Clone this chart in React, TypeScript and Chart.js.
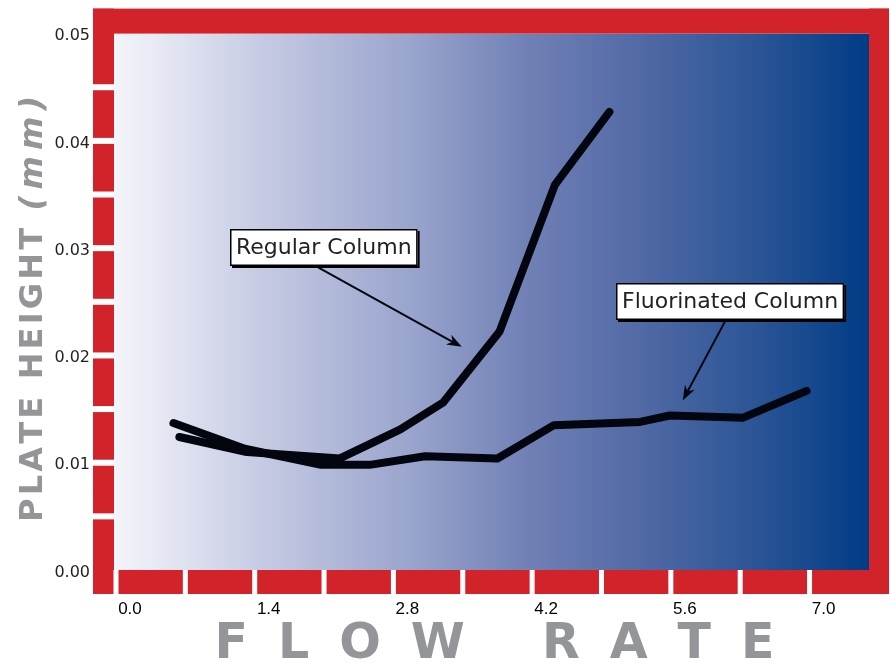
import { useEffect, useRef } from 'react';
import { Chart, registerables } from 'chart.js';

Chart.register(...registerables);

// ---- data ----
const xTickValues = [0, 1.4, 2.8, 4.2, 5.6, 7.0];
const yTickValues = [0, 0.01, 0.02, 0.03, 0.04, 0.05];
const xFrameTicks = [0, 0.7, 1.4, 2.1, 2.8, 3.5, 4.2, 4.9, 5.6, 6.3, 7.0];
const yFrameTicks = [0.005, 0.01, 0.015, 0.02, 0.025, 0.03, 0.035, 0.04, 0.045];

const seriesNames = ['Regular Column', 'Fluorinated Column'];

const regularX = [0.64, 1.32, 2.26, 2.87, 3.3, 3.87, 4.43, 4.98];
const regularY = [0.0124, 0.011, 0.0104, 0.0131, 0.0156, 0.0222, 0.0359, 0.0427];

const fluorinatedX = [0.58, 1.3, 2.07, 2.56, 3.12, 3.85, 4.42, 5.29, 5.59, 6.33, 6.97];
const fluorinatedY = [0.0137, 0.0113, 0.0098, 0.0098, 0.0106, 0.0104, 0.0135, 0.0138, 0.0144, 0.0142, 0.0167];

const xTitle = 'FLOW RATE';
const yTitleMain = 'PLATE HEIGHT ';
const yTitleUnit = '(mm)';

// callout anchors (data coordinates)
const callouts = [
  { label: seriesNames[0], box: { x: 2.094, y: 0.0301 }, tail: { x: 2.04, y: 0.0282 }, head: { x: 3.49, y: 0.0208 } },
  { label: seriesNames[1], box: { x: 6.196, y: 0.0250 }, tail: { x: 6.166, y: 0.0235 }, head: { x: 5.72, y: 0.0158 } },
];

// ---- styles ----
const RED = '#d2232a';
const LINE = '#03060f';
const TITLE_GREY = '#939598';
const FRAME = { left: 21, top: 25, right: 20, bottom: 24 };
const GRADIENT: [number, string][] = [
  [0, '#f4f5fa'],
  [0.2, '#c5cae3'],
  [0.4, '#98a3cc'],
  [0.55, '#7080b5'],
  [0.7, '#5169a5'],
  [0.85, '#2b5595'],
  [1, '#003c86'],
];

function spacedWidth(ctx: CanvasRenderingContext2D, text: string, spacing: number) {
  let w = 0;
  const chars = Array.from(text);
  chars.forEach((ch, i) => {
    w += ctx.measureText(ch).width + (i < chars.length - 1 ? spacing : 0);
  });
  return w;
}

function drawSpaced(ctx: CanvasRenderingContext2D, text: string, x: number, y: number, spacing: number) {
  let cx = x;
  for (const ch of Array.from(text)) {
    ctx.fillText(ch, cx, y);
    cx += ctx.measureText(ch).width + spacing;
  }
  return cx;
}

const framePlugin = {
  id: 'frame',
  beforeDraw(chart: any) {
    const { ctx, chartArea: a, scales } = chart;
    const xs = scales.x;
    const ys = scales.y;
    ctx.save();
    const g = ctx.createLinearGradient(a.left, 0, a.right, 0);
    GRADIENT.forEach(([o, c]) => g.addColorStop(o, c));
    ctx.fillStyle = g;
    ctx.fillRect(a.left, a.top, a.right - a.left, a.bottom - a.top);

    const L = a.left - FRAME.left;
    const T = a.top - FRAME.top;
    const R = a.right + FRAME.right;
    const B = a.bottom + FRAME.bottom;
    ctx.fillStyle = RED;
    ctx.fillRect(L, T, R - L, FRAME.top);
    ctx.fillRect(L, T, FRAME.left, B - T);
    ctx.fillRect(a.right, T, FRAME.right, B - T);
    ctx.fillRect(L, a.bottom, R - L, FRAME.bottom);

    ctx.fillStyle = '#ffffff';
    yFrameTicks.forEach((v) => {
      const py = ys.getPixelForValue(v);
      ctx.fillRect(L, py - 3, FRAME.left, 6);
    });
    xFrameTicks.forEach((v) => {
      const px = xs.getPixelForValue(v);
      ctx.fillRect(px - 2.5, a.bottom, 5, FRAME.bottom);
    });
    ctx.restore();
  },
  afterDraw(chart: any) {
    const { ctx, chartArea: a, scales } = chart;
    const xs = scales.x;
    const ys = scales.y;
    ctx.save();

    // callouts
    callouts.forEach((c) => {
      const tx = xs.getPixelForValue(c.tail.x);
      const ty = ys.getPixelForValue(c.tail.y);
      const hx = xs.getPixelForValue(c.head.x);
      const hy = ys.getPixelForValue(c.head.y);
      const ang = Math.atan2(hy - ty, hx - tx);
      const headLen = 15;
      const headW = 5.5;
      ctx.strokeStyle = LINE;
      ctx.fillStyle = LINE;
      ctx.lineWidth = 2;
      ctx.beginPath();
      ctx.moveTo(tx, ty);
      ctx.lineTo(hx - Math.cos(ang) * headLen * 0.7, hy - Math.sin(ang) * headLen * 0.7);
      ctx.stroke();
      ctx.beginPath();
      ctx.moveTo(hx, hy);
      const bx = hx - Math.cos(ang) * headLen;
      const by = hy - Math.sin(ang) * headLen;
      const nx = -Math.sin(ang);
      const ny = Math.cos(ang);
      ctx.lineTo(bx + nx * headW, by + ny * headW);
      ctx.lineTo(hx - Math.cos(ang) * headLen * 0.7, hy - Math.sin(ang) * headLen * 0.7);
      ctx.lineTo(bx - nx * headW, by - ny * headW);
      ctx.closePath();
      ctx.fill();

      ctx.font = '22px "DejaVu Sans"';
      const tw = ctx.measureText(c.label).width;
      const w = tw + 12;
      const h = 37;
      const cx = xs.getPixelForValue(c.box.x);
      const cy = ys.getPixelForValue(c.box.y);
      const x0 = Math.round(cx - w / 2);
      const y0 = Math.round(cy - h / 2);
      ctx.fillStyle = '#000000';
      ctx.fillRect(x0 + 2, y0 + 2, w, h);
      ctx.fillStyle = '#ffffff';
      ctx.fillRect(x0, y0, w, h);
      ctx.lineWidth = 1.5;
      ctx.strokeStyle = '#000000';
      ctx.strokeRect(x0 + 0.75, y0 + 0.75, w - 1.5, h - 1.5);
      ctx.fillStyle = '#222222';
      ctx.textAlign = 'center';
      ctx.textBaseline = 'middle';
      ctx.fillText(c.label, x0 + w / 2, y0 + h / 2 + 1);
    });

    // axis titles
    ctx.fillStyle = TITLE_GREY;
    ctx.textAlign = 'left';
    ctx.textBaseline = 'alphabetic';
    ctx.font = 'bold 49px "DejaVu Sans"';
    const xSp = 30;
    const xw = spacedWidth(ctx, xTitle, xSp);
    const xc = (a.left + a.right) / 2 + 3;
    drawSpaced(ctx, xTitle, xc - xw / 2, 658, xSp);

    ctx.translate(42, 522);
    ctx.rotate(-Math.PI / 2);
    const ySp = 3.2;
    ctx.font = 'bold 32px "DejaVu Sans"';
    const pos = drawSpaced(ctx, yTitleMain, 0, 0, ySp);
    ctx.font = 'italic bold 32px "DejaVu Sans"';
    drawSpaced(ctx, yTitleUnit, pos, 0, ySp + 3);
    ctx.restore();
  },
};

export default function App() {
  const ref = useRef<HTMLCanvasElement | null>(null);

  useEffect(() => {
    if (!ref.current) return;
    const chart = new Chart(ref.current, {
      type: 'line',
      data: {
        datasets: [
          {
            label: seriesNames[0],
            data: regularX.map((x, i) => ({ x, y: regularY[i] })),
            borderColor: LINE,
            borderWidth: 8,
            borderCapStyle: 'round',
            borderJoinStyle: 'round',
            pointRadius: 0,
            tension: 0,
            fill: false,
          },
          {
            label: seriesNames[1],
            data: fluorinatedX.map((x, i) => ({ x, y: fluorinatedY[i] })),
            borderColor: LINE,
            borderWidth: 8,
            borderCapStyle: 'round',
            borderJoinStyle: 'round',
            pointRadius: 0,
            tension: 0,
            fill: false,
          },
        ],
      },
      options: {
        animation: false,
        responsive: false,
        devicePixelRatio: 1,
        layout: { padding: { top: 33, right: 21, left: 0, bottom: 0 } },
        plugins: {
          legend: { display: false },
          tooltip: { enabled: false },
        },
        scales: {
          x: {
            type: 'linear',
            min: -0.02,
            max: 7.6,
            grid: { display: false, drawTicks: false },
            border: { display: false },
            afterBuildTicks: (axis: any) => {
              axis.ticks = xTickValues.map((v) => ({ value: v }));
            },
            afterFit: (scale: any) => {
              scale.height = 101;
            },
            ticks: {
              padding: 29,
              labelOffset: 14,
              maxRotation: 0,
              autoSkip: false,
              color: '#000000',
              font: { family: '"Liberation Sans"', size: 17 },
              callback: (v: any) => Number(v).toFixed(1),
            },
          },
          y: {
            type: 'linear',
            min: 0,
            max: 0.05,
            grid: { display: false, drawTicks: false },
            border: { display: false },
            afterBuildTicks: (axis: any) => {
              axis.ticks = yTickValues.map((v) => ({ value: v }));
            },
            afterFit: (scale: any) => {
              scale.width = 114;
            },
            ticks: {
              padding: 24,
              labelOffset: 2.5,
              autoSkip: false,
              color: '#231f20',
              font: { family: '"DejaVu Sans"', size: 16 },
              callback: (v: any) => Number(v).toFixed(2),
            },
          },
        },
      },
      plugins: [framePlugin],
    } as any);
    return () => chart.destroy();
  }, []);

  return (
    <div style={{ position: 'fixed', left: 0, top: 0, width: 890, height: 671, background: '#ffffff' }}>
      <canvas ref={ref} width={890} height={671} style={{ display: 'block' }} />
    </div>
  );
}
